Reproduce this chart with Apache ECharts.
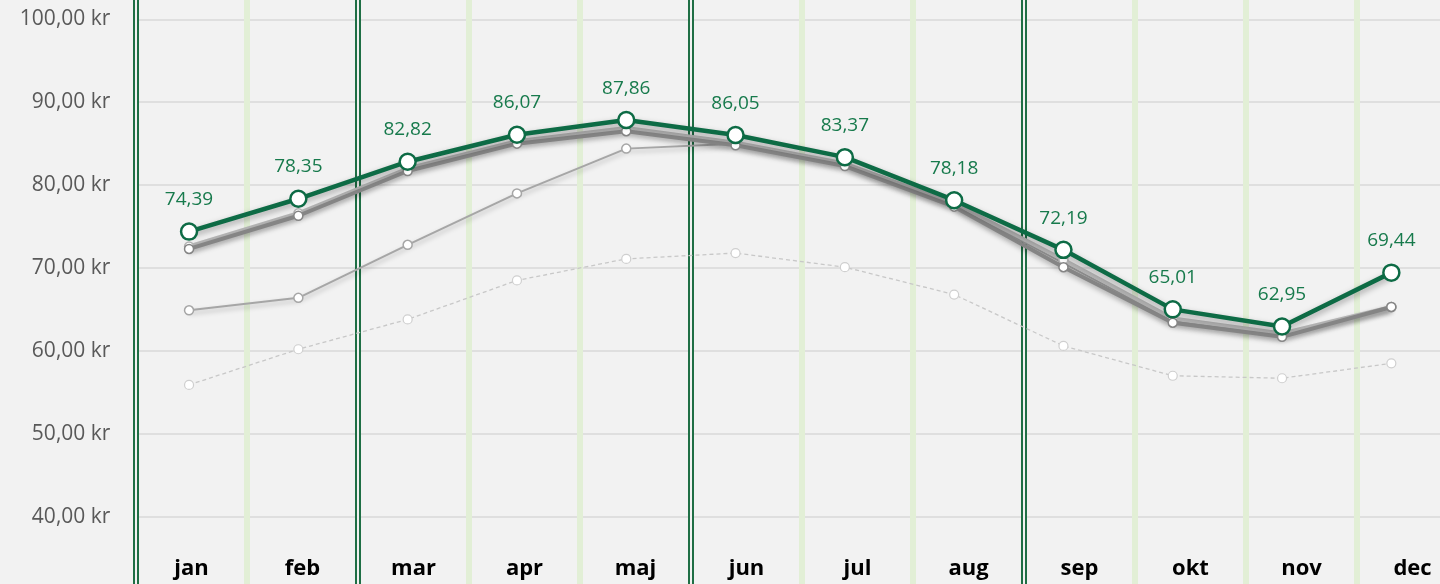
<!DOCTYPE html>
<html>
<head>
<meta charset="utf-8">
<script src="https://cdn.jsdelivr.net/npm/echarts@6/dist/echarts.min.js"></script>
<style>
  html, body { margin: 0; padding: 0; background: #f2f2f2; }
  #chart { width: 1440px; height: 584px; }
</style>
</head>
<body>
<div id="chart"></div>
<script>
var months = ['jan', 'feb', 'mar', 'apr', 'maj', 'jun', 'jul', 'aug', 'sep', 'okt', 'nov', 'dec'];
var current = [74.39, 78.35, 82.82, 86.07, 87.86, 86.05, 83.37, 78.18, 72.19, 65.01, 62.95, 69.44];
var prevA = [72.3, 76.3, 81.7, 85.0, 86.5, 84.8, 82.3, 77.4, 70.1, 63.4, 61.7, 65.3];
var prevB = [72.6, 76.6, 82.0, 85.3, 86.9, 85.1, 82.6, 77.8, 71.0, 63.9, 62.1, 65.3];
var prevC = [64.9, 66.4, 72.8, 79.0, 84.4, 85.0, 82.5, 77.6, 70.6, 63.6, 61.9, 65.3];
var prevD = [55.9, 60.2, 63.8, 68.5, 71.1, 71.8, 70.1, 66.8, 60.6, 57.0, 56.7, 58.5];

// vertical separators: dark at season starts, pale green elsewhere
var dark = '#1f6f45', pale = '#e2efd6';
var outerColors = [dark, pale, dark, pale, pale, dark, pale, pale, dark, pale, pale, pale, pale];
var innerColors = ['#f2f2f2', 'rgba(0,0,0,0)', '#f2f2f2', 'rgba(0,0,0,0)', 'rgba(0,0,0,0)', '#f2f2f2',
  'rgba(0,0,0,0)', 'rgba(0,0,0,0)', '#f2f2f2', 'rgba(0,0,0,0)', 'rgba(0,0,0,0)', 'rgba(0,0,0,0)', 'rgba(0,0,0,0)'];

function kr(v) {
  return v.toFixed(2).replace('.', ',') + ' kr';
}

function graySeries(name, data, color, width, z) {
  return {
    name: name, type: 'line', xAxisIndex: 2, yAxisIndex: 1, data: data, z: z,
    symbol: 'circle', symbolSize: 9,
    itemStyle: { color: '#fff', borderColor: color, borderWidth: 1.5 },
    lineStyle: { color: color, width: width, shadowColor: 'rgba(0,0,0,0.25)', shadowBlur: 5, shadowOffsetY: 3 },
    emphasis: { disabled: true }
  };
}

var chart = echarts.init(document.getElementById('chart'));
chart.setOption({
  backgroundColor: '#f2f2f2',
  animation: false,
  grid: [
    { left: 136, top: 0, width: 1332, height: 584, outerBoundsMode: 'none', containLabel: false },
    { left: 134.4, top: 19.3, width: 1311.6, height: 580.3, outerBoundsMode: 'none', containLabel: false }
  ],
  xAxis: [
    {
      type: 'category', gridIndex: 0, data: months,
      axisLine: { show: false }, axisTick: { show: false },
      axisLabel: { inside: true, margin: 4, color: '#000', fontWeight: 'bold', fontSize: 22, fontFamily: 'Open Sans' },
      splitLine: { show: true, interval: 0, lineStyle: { color: outerColors, width: 6 } }
    },
    {
      type: 'category', gridIndex: 0, data: months,
      axisLine: { show: false }, axisTick: { show: false }, axisLabel: { show: false },
      splitLine: { show: true, interval: 0, lineStyle: { color: innerColors, width: 2 } }
    },
    {
      type: 'category', gridIndex: 1, data: months, show: false
    }
  ],
  yAxis: [
    { type: 'value', gridIndex: 0, show: false, splitLine: { show: false } },
    {
      type: 'value', gridIndex: 1, min: 30, max: 100, interval: 10,
      axisLine: { show: false }, axisTick: { show: false },
      axisLabel: { formatter: kr, margin: 24, color: '#595959', fontSize: 21, fontFamily: 'Open Sans' },
      splitLine: { lineStyle: { color: '#d9d9d9', width: 1.5 } }
    }
  ],
  series: [
    {
      name: 'D', type: 'line', xAxisIndex: 2, yAxisIndex: 1, data: prevD, z: 2,
      symbol: 'circle', symbolSize: 9,
      itemStyle: { color: '#fff', borderColor: '#cfcfcf', borderWidth: 1.2 },
      lineStyle: { color: '#c8c8c8', width: 1.3, type: [4, 3] },
      emphasis: { disabled: true }
    },
    graySeries('C', prevC, '#a6a6a6', 2, 3),
    graySeries('B', prevB, '#b4b4b4', 4, 4),
    graySeries('A', prevA, '#858585', 4, 5),
    {
      name: 'current', type: 'line', xAxisIndex: 2, yAxisIndex: 1, data: current, z: 6,
      symbol: 'circle', symbolSize: 16,
      itemStyle: { color: '#fff', borderColor: '#0d6b45', borderWidth: 2.5 },
      lineStyle: { color: '#0d6b45', width: 4.5, shadowColor: 'rgba(0,0,0,0.35)', shadowBlur: 6, shadowOffsetY: 3 },
      label: {
        show: true, position: 'top', distance: 13, color: '#177a4c', fontSize: 19, fontFamily: 'Open Sans',
        formatter: function (p) { return p.value.toFixed(2).replace('.', ','); }
      },
      emphasis: { disabled: true }
    }
  ]
});
</script>
</body>
</html>
